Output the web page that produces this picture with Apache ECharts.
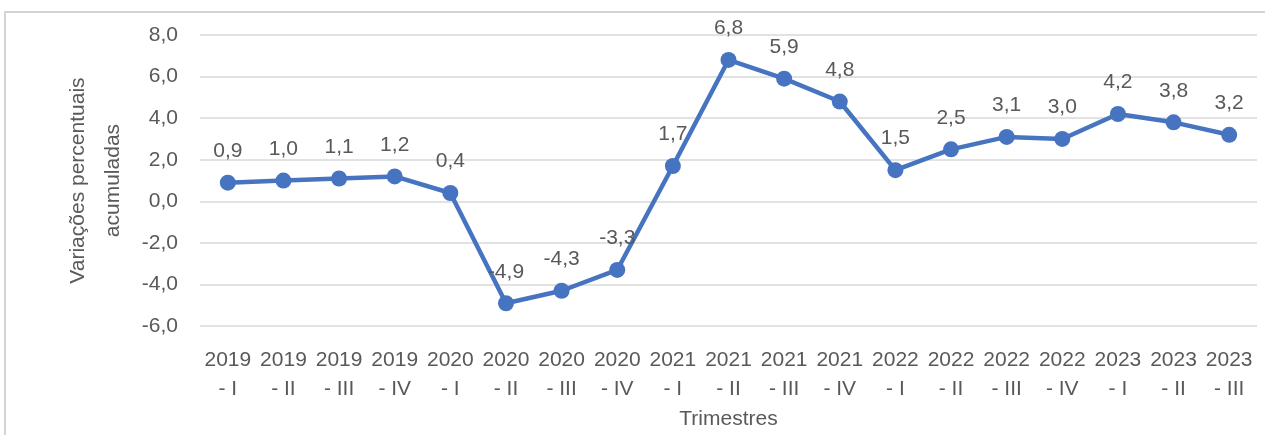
<!DOCTYPE html>
<html>
<head>
<meta charset="utf-8">
<script src="https://cdn.jsdelivr.net/npm/echarts@6/dist/echarts.min.js"></script>
<style>html,body{margin:0;padding:0;background:#fff}#c{width:1265px;height:435px}</style>
</head>
<body>
<div id="c"></div>
<script>
const years = ["2019","2019","2019","2019","2020","2020","2020","2020","2021","2021","2021","2021","2022","2022","2022","2022","2023","2023","2023"];
const quarters = ["I","II","III","IV","I","II","III","IV","I","II","III","IV","I","II","III","IV","I","II","III"];
const values = [0.9,1.0,1.1,1.2,0.4,-4.9,-4.3,-3.3,1.7,6.8,5.9,4.8,1.5,2.5,3.1,3.0,4.2,3.8,3.2];
const yTicks = {min:-6, max:8, interval:2};
const yName = "Variações percentuais\nacumuladas";
const xName = "Trimestres";

const categories = years.map((y,i)=> y + "\n- " + quarters[i]);
const fmt = v => Number(v).toFixed(1).replace('.', ',');
const font = "'Liberation Sans', Arial, sans-serif";
const txt = '#595959';

const chart = echarts.init(document.getElementById('c'), null, {renderer:'canvas'});
chart.setOption({
  animation:false,
  textStyle:{fontFamily:font},
  graphic:[{type:'rect', shape:{x:5,y:12,width:1275,height:440}, style:{fill:'none', stroke:'#d4d4d4', lineWidth:2}, z:-1}],
  grid:{left:200,right:8,top:35,bottom:102,containLabel:false},
  xAxis:{
    type:'category', data:categories, boundaryGap:true,
    axisLine:{show:false}, axisTick:{show:false},
    axisLabel:{interval:0, color:txt, fontSize:21, lineHeight:29, margin:20, fontFamily:font},
    name:xName, nameLocation:'middle', nameGap:76,
    nameTextStyle:{color:txt, fontSize:21, fontFamily:font, verticalAlign:'top'}
  },
  yAxis:{
    type:'value', min:yTicks.min, max:yTicks.max, interval:yTicks.interval,
    axisLine:{show:false}, axisTick:{show:false},
    splitLine:{lineStyle:{color:'#d9d9d9', width:1.5}},
    axisLabel:{color:txt, fontSize:21, margin:22, formatter:fmt, fontFamily:font},
    name:yName, nameLocation:'middle', nameGap:68, nameRotate:90,
    nameTextStyle:{color:txt, fontSize:21, lineHeight:35, fontFamily:font}
  },
  series:[{
    type:'line', data:values,
    symbol:'circle', symbolSize:16,
    lineStyle:{color:'#4674C1', width:4.5},
    itemStyle:{color:'#4674C1'},
    label:{show:true, position:'top', distance:13, color:txt, fontSize:21, fontFamily:font, formatter:p=>fmt(p.value)}
  }]
});
</script>
</body>
</html>
